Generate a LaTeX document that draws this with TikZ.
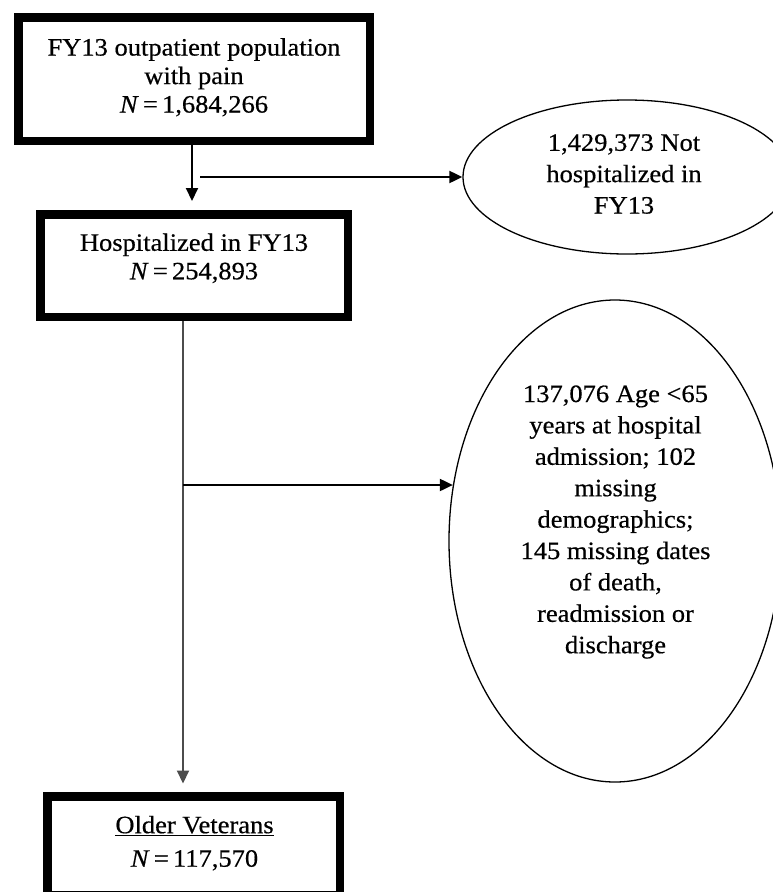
\documentclass[tikz,border=0pt]{standalone}
\usepackage{fontspec}
\setmainfont[FakeStretch=1.06,FakeBold=0.5]{Liberation Serif}
\usetikzlibrary{arrows.meta,shapes.geometric}

\begin{document}
\begin{tikzpicture}[x=1pt,y=-1pt,
		frame/.style={draw,line width=8.5pt,inner sep=0pt},
		oval/.style={draw,ellipse,line width=1.3pt,inner sep=0pt},
		boxtxt/.style={align=center,font=\fontsize{25}{28.5}\selectfont},
		ovaltxt/.style={align=center,font=\fontsize{25}{31.4}\selectfont},
		>={Triangle[length=13pt,width=12pt]}]
		\useasboundingbox (0,0) rectangle (773,892);
		\clip (0,0) rectangle (773,892);
		% boxes
		\node[frame,minimum width=351.5pt,minimum height=123.5pt] (pop) at (194,79) {};
		\node[boxtxt] (popT) at (194,77.3) {FY13 outpatient population\\with pain\\\textit{N}\,=\,1,684,266};
		\node[frame,minimum width=307.5pt,minimum height=102.5pt] (hosp) at (194,265.5) {};
		\node[boxtxt] (hospT) at (194,258.3) {Hospitalized in FY13\\\textit{N}\,=\,254,893};
		\node[frame,minimum width=292.5pt,minimum height=99pt] (older) at (193.5,845.75) {};
		\node[boxtxt] (olderT) at (194.5,843.2) {\underline{Older Veterans}\\[5pt]\textit{N}\,=\,117,570};
		% exclusions
		\node[oval,minimum width=328pt,minimum height=154pt] (nothosp) at (627,177) {};
		\node[ovaltxt] (nothospT) at (624,174) {1,429,373 Not\\hospitalized in\\FY13};
		\node[oval,minimum width=332pt,minimum height=482pt] (excl) at (615,541) {};
		\node[ovaltxt] (exclT) at (615.5,522) {137,076 Age <65\\years at hospital\\admission; 102\\missing\\demographics;\\145 missing dates\\of death,\\readmission or\\discharge};
		%
		\coordinate (split1) at (200,177);
		\coordinate (split2) at (183,485);
		\path[->,line width=2pt]
		([xshift=-2pt]pop.south) edge[shorten >=9pt] ([xshift=-2pt]hosp.north)
		(split1) edge (nothosp.west)
		(split2 |- hosp.south) edge[draw=black!70,shorten >=8.5pt] (split2 |- older.north)
		(split2) edge (split2 -| excl.161);
\end{tikzpicture}
\end{document}
